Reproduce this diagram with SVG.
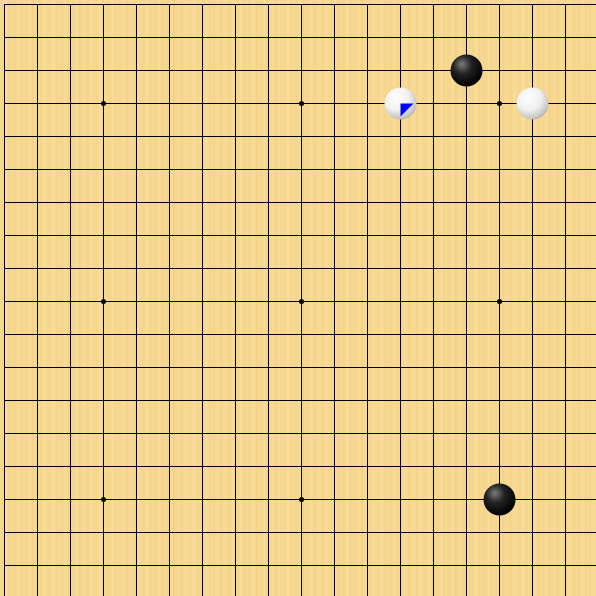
<svg xmlns="http://www.w3.org/2000/svg" width="596" height="596" viewBox="0 0 596 596">
<defs>
<pattern id="wood" x="0" y="0" width="47" height="596" patternUnits="userSpaceOnUse">
<rect width="47" height="596" fill="#F7D892"/>
<rect x="2" width="1" height="596" fill="#F2CB76" opacity="0.35"/>
<rect x="5" width="2" height="596" fill="#FBE3A8" opacity="0.4"/>
<rect x="9" width="1" height="596" fill="#EFC46C" opacity="0.3"/>
<rect x="13" width="3" height="596" fill="#F4D084" opacity="0.35"/>
<rect x="18" width="1" height="596" fill="#FCE6AE" opacity="0.45"/>
<rect x="21" width="1" height="596" fill="#EEC268" opacity="0.35"/>
<rect x="25" width="2" height="596" fill="#F5D389" opacity="0.4"/>
<rect x="29" width="1" height="596" fill="#FBE2A4" opacity="0.45"/>
<rect x="32" width="2" height="596" fill="#F0C771" opacity="0.3"/>
<rect x="37" width="1" height="596" fill="#F9DE9E" opacity="0.4"/>
<rect x="40" width="2" height="596" fill="#F1C973" opacity="0.35"/>
<rect x="44" width="1" height="596" fill="#FCE5AB" opacity="0.4"/>
</pattern>
<radialGradient id="gBlack" cx="0.4" cy="0.35" r="0.65" fx="0.35" fy="0.3">
<stop offset="0" stop-color="#7a7a7a"/>
<stop offset="0.45" stop-color="#222"/>
<stop offset="1" stop-color="#000"/>
</radialGradient>
<radialGradient id="gWhite" cx="0.4" cy="0.35" r="0.7" fx="0.35" fy="0.3">
<stop offset="0" stop-color="#ffffff"/>
<stop offset="0.55" stop-color="#f0f0f0"/>
<stop offset="0.9" stop-color="#c4c4c4"/>
<stop offset="1" stop-color="#a8a8a8"/>
</radialGradient>
</defs>
<style>
.ln{stroke:#000;stroke-width:1;fill:none}
.star{fill:#000}
.black{fill:url(#gBlack)}
.white{fill:url(#gWhite)}
.mark{fill:#0000ff}
</style>
<rect id="board" width="596" height="596" fill="url(#wood)"/>
<g id="grid" class="ln">
<path d="M4.5 4.5V596M37.5 4.5V596M70.5 4.5V596M103.5 4.5V596M136.5 4.5V596M169.5 4.5V596M202.5 4.5V596M235.5 4.5V596M268.5 4.5V596M301.5 4.5V596M334.5 4.5V596M367.5 4.5V596M400.5 4.5V596M433.5 4.5V596M466.5 4.5V596M499.5 4.5V596M532.5 4.5V596M565.5 4.5V596"/>
<path d="M4.5 4.5H596M4.5 37.5H596M4.5 70.5H596M4.5 103.5H596M4.5 136.5H596M4.5 169.5H596M4.5 202.5H596M4.5 235.5H596M4.5 268.5H596M4.5 301.5H596M4.5 334.5H596M4.5 367.5H596M4.5 400.5H596M4.5 433.5H596M4.5 466.5H596M4.5 499.5H596M4.5 532.5H596M4.5 565.5H596"/>
</g>
<g id="stars" class="star">
<circle cx="103.5" cy="103.5" r="2.5"/><circle cx="301.5" cy="103.5" r="2.5"/><circle cx="499.5" cy="103.5" r="2.5"/>
<circle cx="103.5" cy="301.5" r="2.5"/><circle cx="301.5" cy="301.5" r="2.5"/><circle cx="499.5" cy="301.5" r="2.5"/>
<circle cx="103.5" cy="499.5" r="2.5"/><circle cx="301.5" cy="499.5" r="2.5"/><circle cx="499.5" cy="499.5" r="2.5"/>
</g>
<g id="stone-black-1"><circle class="black" cx="466.5" cy="70.5" r="16"/></g>
<g id="stone-white-1"><circle class="white" cx="400.5" cy="103.5" r="16"/><polygon class="mark" points="400.5,103.5 413.5,103.5 400.5,116.5"/></g>
<g id="stone-white-2"><circle class="white" cx="532.5" cy="103.5" r="16"/></g>
<g id="stone-black-2"><circle class="black" cx="499.5" cy="499.5" r="16"/></g>
</svg>
